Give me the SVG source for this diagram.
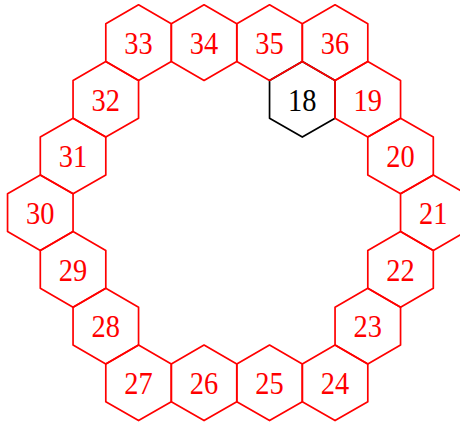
<svg xmlns="http://www.w3.org/2000/svg" width="460" height="426" viewBox="0 0 460 426">
<style>
.h{fill:none;stroke-width:1.7;stroke-linejoin:round}
.r{stroke:#ff0000}
.k{stroke:#000000}
text{font-family:"Liberation Serif","DejaVu Serif",serif;font-size:32px;text-anchor:middle}
.tr{fill:#ff0000}
.tk{fill:#000000}
</style>
<defs>
<polygon id="hex" points="0,-37.8 32.75,-18.9 32.75,18.9 0,37.8 -32.75,18.9 -32.75,-18.9"/>
</defs>
<rect width="460" height="426" fill="#ffffff"/>
<g id="n18"><use href="#hex" x="302.3" y="99.3" class="h k"/><text x="302.3" y="110.6" class="tk" textLength="28.4" lengthAdjust="spacingAndGlyphs">18</text></g>
<g id="n19"><use href="#hex" x="367.8" y="99.3" class="h r"/><text x="367.8" y="110.6" class="tr" textLength="28.4" lengthAdjust="spacingAndGlyphs">19</text></g>
<g id="n20"><use href="#hex" x="400.55" y="156" class="h r"/><text x="400.55" y="167.3" class="tr" textLength="28.4" lengthAdjust="spacingAndGlyphs">20</text></g>
<g id="n21"><use href="#hex" x="433.3" y="212.7" class="h r"/><text x="433.3" y="224" class="tr" textLength="28.4" lengthAdjust="spacingAndGlyphs">21</text></g>
<g id="n22"><use href="#hex" x="400.55" y="269.4" class="h r"/><text x="400.55" y="280.7" class="tr" textLength="28.4" lengthAdjust="spacingAndGlyphs">22</text></g>
<g id="n23"><use href="#hex" x="367.8" y="326.1" class="h r"/><text x="367.8" y="337.4" class="tr" textLength="28.4" lengthAdjust="spacingAndGlyphs">23</text></g>
<g id="n24"><use href="#hex" x="335.05" y="382.8" class="h r"/><text x="335.05" y="394.1" class="tr" textLength="28.4" lengthAdjust="spacingAndGlyphs">24</text></g>
<g id="n25"><use href="#hex" x="269.55" y="382.8" class="h r"/><text x="269.55" y="394.1" class="tr" textLength="28.4" lengthAdjust="spacingAndGlyphs">25</text></g>
<g id="n26"><use href="#hex" x="204.05" y="382.8" class="h r"/><text x="204.05" y="394.1" class="tr" textLength="28.4" lengthAdjust="spacingAndGlyphs">26</text></g>
<g id="n27"><use href="#hex" x="138.55" y="382.8" class="h r"/><text x="138.55" y="394.1" class="tr" textLength="28.4" lengthAdjust="spacingAndGlyphs">27</text></g>
<g id="n28"><use href="#hex" x="105.8" y="326.1" class="h r"/><text x="105.8" y="337.4" class="tr" textLength="28.4" lengthAdjust="spacingAndGlyphs">28</text></g>
<g id="n29"><use href="#hex" x="73.05" y="269.4" class="h r"/><text x="73.05" y="280.7" class="tr" textLength="28.4" lengthAdjust="spacingAndGlyphs">29</text></g>
<g id="n30"><use href="#hex" x="40.3" y="212.7" class="h r"/><text x="40.3" y="224" class="tr" textLength="28.4" lengthAdjust="spacingAndGlyphs">30</text></g>
<g id="n31"><use href="#hex" x="73.05" y="156" class="h r"/><text x="73.05" y="167.3" class="tr" textLength="28.4" lengthAdjust="spacingAndGlyphs">31</text></g>
<g id="n32"><use href="#hex" x="105.8" y="99.3" class="h r"/><text x="105.8" y="110.6" class="tr" textLength="28.4" lengthAdjust="spacingAndGlyphs">32</text></g>
<g id="n33"><use href="#hex" x="138.55" y="42.6" class="h r"/><text x="138.55" y="53.9" class="tr" textLength="28.4" lengthAdjust="spacingAndGlyphs">33</text></g>
<g id="n34"><use href="#hex" x="204.05" y="42.6" class="h r"/><text x="204.05" y="53.9" class="tr" textLength="28.4" lengthAdjust="spacingAndGlyphs">34</text></g>
<g id="n35"><use href="#hex" x="269.55" y="42.6" class="h r"/><text x="269.55" y="53.9" class="tr" textLength="28.4" lengthAdjust="spacingAndGlyphs">35</text></g>
<g id="n36"><use href="#hex" x="335.05" y="42.6" class="h r"/><text x="335.05" y="53.9" class="tr" textLength="28.4" lengthAdjust="spacingAndGlyphs">36</text></g>
<g id="connectors"></g>
</svg>
